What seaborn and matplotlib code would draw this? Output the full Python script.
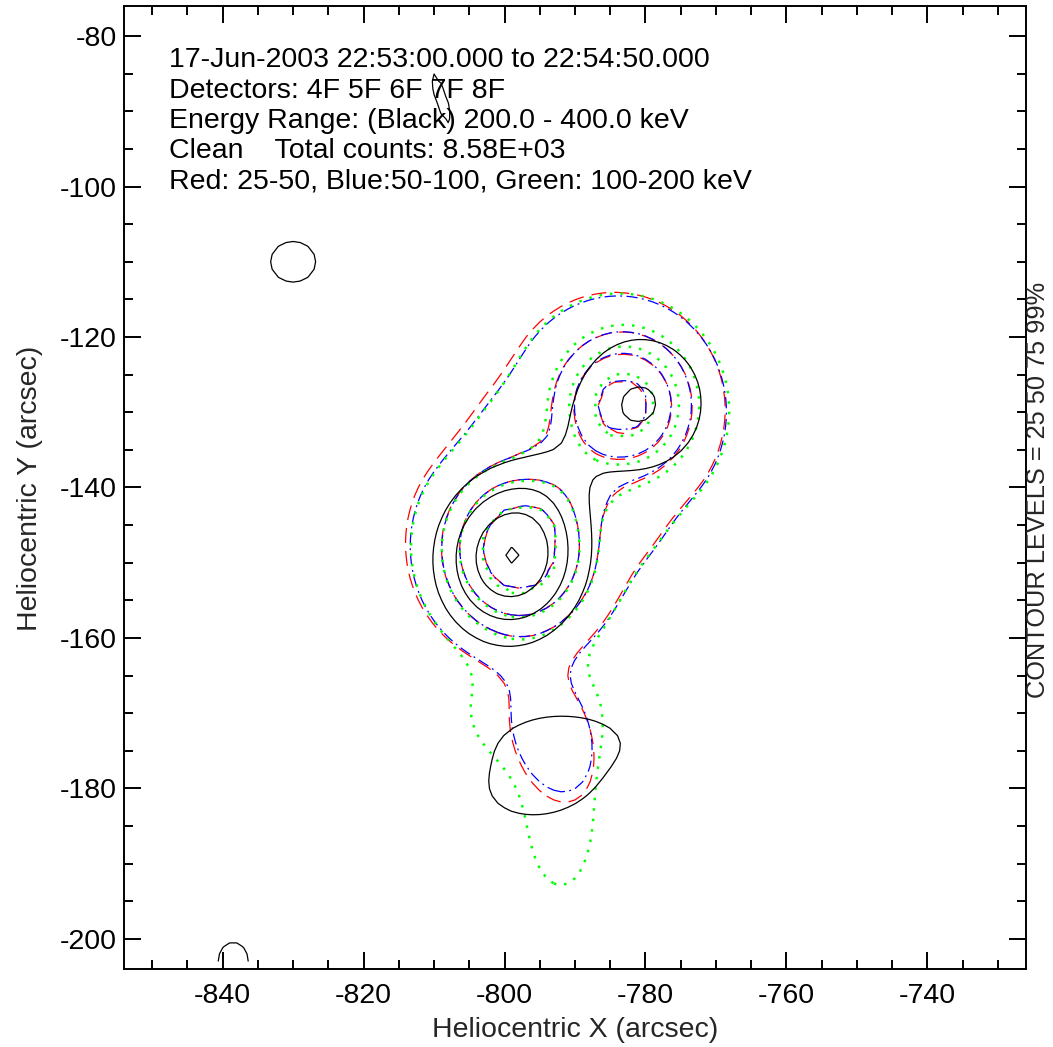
import numpy as np
import matplotlib
matplotlib.use("Agg")
import matplotlib.pyplot as plt
from matplotlib.ticker import MultipleLocator, FixedLocator
import seaborn as sns

# ---------------- text ----------------
TITLE_LINES = [
    "17-Jun-2003 22:53:00.000 to 22:54:50.000",
    "Detectors: 4F 5F 6F 7F 8F",
    "Energy Range: (Black) 200.0 - 400.0 keV",
    "Clean    Total counts: 8.58E+03",
    "Red: 25-50, Blue:50-100, Green: 100-200 keV",
]
X_LABEL = "Heliocentric X (arcsec)"
Y_LABEL = "Heliocentric Y (arcsec)"
SIDE_LABEL = "CONTOUR LEVELS = 25 50 75 99%"

# ---------------- axes ----------------
X_LIMITS = [-854, -726]
Y_LIMITS = [-204, -76]
X_TICKS = [-840, -820, -800, -780, -760, -740]
Y_TICKS = [-200, -180, -160, -140, -120, -100, -80]
MAP_X = [-853, -727]          # image pixel centres (arcsec)
MAP_Y = [-203, -77]
CONTOUR_LEVELS = [0.25, 0.50, 0.75, 0.99]

# ---------------- image models ----------------
# flat-topped peaks: (x, y, core_radius, sigma_x, sigma_y, power)
# blobs / tails:    (x, y, amplitude, sigma_u, sigma_v, angle_deg)
# envelope:         (x_a, y_a, x_b, y_b, amplitude, width, power)
BLACK_BLOBS = [
    (-799.0, -149.2, 1.00, 6.7, 7.2, -15),
    (-780.5, -128.8, 0.52, 7.0, 7.0, 0),
    (-792.0, -136.5, 0.09, 5.0, 8.0, -37),
    (-794.3, -178.5, 0.36, 9.5, 5.8, 12),
    (-791.5, -173.3, 0.20, 6.5, 2.5, 0),
    (-830.0, -110.0, 0.35, 4.0, 3.4, 0),
    (-809.0, -88.3, 0.32, 1.2, 5.1, 19),
    (-838.5, -203.0, 0.35, 2.7, 3.2, 0),
]
BLACK_BLEND = 1.0

RED_PEAKS = [
    (-783.2, -129.2, 3.75, 4.3, 4.3, 1.5),
    (-797.9, -148.1, 5.60, 4.0, 4.2, 1.6),
]
RED_BLOBS = [(-790.5, -138.7, 0.42, 8.0, 4.5, -37)]
RED_TAIL = [(-793.3, -173.2, 0.40, 6.0, 9.8, 20)]
RED_ENVELOPE = (-798.4, -147.2, -785.2, -130.1, 0.32, 17.5, 6)

BLUE_PEAKS = [
    (-783.2, -129.0, 3.75, 4.2, 4.2, 1.5),
    (-797.9, -148.1, 5.60, 4.0, 4.2, 1.6),
]
BLUE_BLOBS = [(-790.5, -138.7, 0.42, 8.0, 4.5, -37)]
BLUE_TAIL = [(-793.3, -172.5, 0.40, 5.8, 9.0, 20)]
BLUE_ENVELOPE = (-797.6, -147.6, -784.4, -130.6, 0.32, 17.2, 6)

GREEN_PEAKS = [
    (-783.0, -129.0, 4.30, 4.6, 4.6, 1.6),
    (-797.9, -148.3, 5.60, 4.0, 4.2, 1.6),
]
GREEN_BLOBS = [(-790.5, -138.7, 0.42, 8.0, 4.5, -37)]
GREEN_TAIL = [
    (-796.0, -169.5, 0.40, 9.5, 7.5, 0),
    (-792.0, -186.0, 0.36, 4.8, 8.5, 0),
]
GREEN_ENVELOPE = (-797.6, -147.6, -784.4, -130.6, 0.32, 17.0, 6)
COLOR_BLEND = 2.0


def peak_map(X, Y, p):
    x0, y0, r0, sx, sy, power = p
    rho = np.hypot((X - x0) / sx, (Y - y0) / sy)
    c = r0 / (0.5 * (sx + sy))
    inner = np.exp(-0.01005 * np.clip(rho / c, 0, 1) ** 2)
    outer = np.exp(-0.5 * np.clip(rho - c, 0, None) ** power)
    return inner * outer


def blob_map(X, Y, b):
    x0, y0, amp, su, sv, ang = b
    t = np.deg2rad(ang)
    dx, dy = X - x0, Y - y0
    u = (dx * np.cos(t) + dy * np.sin(t)) / su
    v = (-dx * np.sin(t) + dy * np.cos(t)) / sv
    return amp * np.exp(-0.5 * (u ** 2 + v ** 2))


def envelope_map(X, Y, e):
    xa, ya, xb, yb, amp, width, power = e
    px, py = xb - xa, yb - ya
    t = np.clip(((X - xa) * px + (Y - ya) * py) / (px ** 2 + py ** 2), 0, 1)
    d = np.hypot(X - (xa + t * px), Y - (ya + t * py))
    return amp * np.exp(-0.5 * (d / width) ** power)


def band_map(X, Y, blend, peaks=(), blobs=(), tail=(), envelope=None):
    parts = [peak_map(X, Y, p) for p in peaks]
    parts += [blob_map(X, Y, b) for b in blobs]
    if len(tail):
        parts.append(sum(blob_map(X, Y, b) for b in tail))
    if envelope is not None:
        parts.append(envelope_map(X, Y, envelope))
    Z = sum(p ** blend for p in parts) ** (1.0 / blend)
    return Z / Z.max()


sns.set_theme(style="ticks")
plt.rcParams["font.family"] = ["Liberation Sans", "DejaVu Sans"]
plt.rcParams["axes.unicode_minus"] = False
plt.rcParams["axes.linewidth"] = 1.4

fig = plt.figure(figsize=(10.53, 10.47), dpi=100)
ax = fig.add_axes([0.11776, 0.07450, 0.85660, 0.91977])

xs = np.arange(MAP_X[0], MAP_X[1] + 0.5, 1.0)
ys = np.arange(MAP_Y[0], MAP_Y[1] + 0.5, 1.0)
X, Y = np.meshgrid(xs, ys)

bands = [
    (band_map(X, Y, COLOR_BLEND, RED_PEAKS, RED_BLOBS, RED_TAIL, RED_ENVELOPE),
     "#ff0000", (0, (12, 6.4)), 0.9),
    (band_map(X, Y, COLOR_BLEND, BLUE_PEAKS, BLUE_BLOBS, BLUE_TAIL, BLUE_ENVELOPE),
     "#0000ff", (0, (9, 3.5, 1.5, 3.5)), 0.9),
    (band_map(X, Y, COLOR_BLEND, GREEN_PEAKS, GREEN_BLOBS, GREEN_TAIL, GREEN_ENVELOPE),
     "#00ff00", (0, (1, 3.2)), 1.8),
    (band_map(X, Y, BLACK_BLEND, blobs=BLACK_BLOBS),
     "black", "solid", 0.9),
]
for Z, color, ls, lw in bands:
    cs = ax.contour(X, Y, Z, levels=CONTOUR_LEVELS, colors=color, linewidths=lw)
    cs.set_linestyle(ls)

ax.set_xlim(*X_LIMITS)
ax.set_ylim(*Y_LIMITS)
ax.xaxis.set_major_locator(FixedLocator(X_TICKS))
ax.yaxis.set_major_locator(FixedLocator(Y_TICKS))
ax.xaxis.set_minor_locator(MultipleLocator(5))
ax.yaxis.set_minor_locator(MultipleLocator(5))
ax.tick_params(which="both", direction="in", top=True, right=True,
               labelsize=20.5, width=1.4, color="black", labelcolor="black")
ax.tick_params(which="major", length=12)
ax.tick_params(which="minor", length=6.5)
ax.tick_params(axis="x", which="major", pad=10)
ax.tick_params(axis="y", which="major", pad=5)
for sp in ax.spines.values():
    sp.set_color("black")
    sp.set_linewidth(1.4)

ys_text = [0.9367, 0.9045, 0.8733, 0.8422, 0.8100]
for line, yy in zip(TITLE_LINES, ys_text):
    ax.text(0.050, yy, line, transform=ax.transAxes, fontsize=20.5,
            va="baseline", ha="left", color="black")

fig.text(575 / 1053, 1 - 1030 / 1047, X_LABEL, fontsize=20.5,
         ha="center", va="center")
fig.text(30 / 1053, 1 - 488 / 1047, Y_LABEL, fontsize=20.5,
         ha="center", va="center", rotation=90)
fig.text(1038 / 1053, 1 - 490 / 1047, SIDE_LABEL, fontsize=18.3,
         ha="center", va="center", rotation=90)

fig.savefig("out.png", dpi=100)
